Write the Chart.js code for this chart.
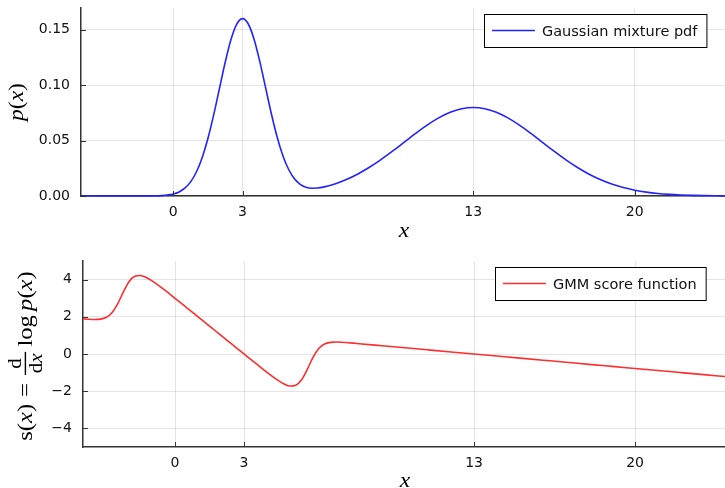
<!DOCTYPE html>
<html>
<head>
<meta charset="utf-8">
<script src="https://cdn.jsdelivr.net/npm/chart.js@4.4.0/dist/chart.umd.min.js"></script>
<style>
  html, body { margin: 0; padding: 0; background: #fff; }
  canvas { display: block; }
</style>
</head>
<body>
<canvas id="pdfChart" width="725" height="244"></canvas>
<canvas id="scoreChart" width="725" height="244"></canvas>
<script>
// values
const xTicks = [0, 3, 13, 20];
const pdfYTicks = [0, 0.05, 0.10, 0.15];
const scoreYTicks = [-4, -2, 0, 2, 4];

const pdfX = [-4, -3, -2, -1.5, -1, -0.5,
  0, 0.25, 0.5, 0.75, 1, 1.25, 1.5, 1.75, 2, 2.25, 2.5, 2.75, 3, 3.25, 3.5, 3.75,
  4, 4.25, 4.5, 4.75, 5, 5.25, 5.5, 5.75, 6, 6.25, 6.5,
  7, 7.5, 8, 8.5, 9, 9.5, 10, 10.5, 11, 11.5, 12, 12.5, 13, 13.5, 14, 14.5, 15, 15.5,
  16, 16.5, 17, 17.5, 18, 18.5, 19, 19.5, 20, 20.5, 21, 21.5, 22, 22.5, 23, 23.5, 24];
const pdfY = [0, 0, 0.000001, 0.000006, 0.000055, 0.00035,
  0.00178, 0.00365, 0.00703, 0.01272, 0.02163, 0.03455, 0.05186, 0.07313, 0.09689, 0.12059,
  0.14101, 0.15490, 0.15989, 0.15508, 0.14136, 0.12115,
  0.09768, 0.07420, 0.05325, 0.03633, 0.02388, 0.01553, 0.01052, 0.00794, 0.00702, 0.00716, 0.00798,
  0.01085, 0.01487, 0.01990, 0.02590, 0.03280, 0.04040, 0.04839, 0.05638, 0.06389, 0.07041,
  0.07548, 0.07869, 0.07979, 0.07869, 0.07548, 0.07041, 0.06389, 0.05638,
  0.04839, 0.04040, 0.03280, 0.02590, 0.01990, 0.01486, 0.01080, 0.00763, 0.00525, 0.00351,
  0.00228, 0.00144, 0.00089, 0.00053, 0.00031, 0.00018, 0.0001];

const scoreX = [-4, -3.75, -3.5, -3.25, -3, -2.75, -2.5, -2.25, -2, -1.75, -1.5, -1.25,
  -1, -0.75, -0.5, -0.25, 0, 0.25, 0.5, 0.75, 1, 1.25, 1.5, 1.75, 2, 2.25, 2.5, 2.75,
  3, 3.25, 3.5, 3.75, 4, 4.25, 4.5, 4.75, 5, 5.25, 5.5, 5.75, 6, 6.25, 6.5, 6.75,
  7, 7.25, 7.5, 7.75, 8, 9, 10, 11, 12, 13, 14, 15, 16, 17, 18, 19, 20, 21, 22, 23, 24];
const scoreY = [1.891, 1.868, 1.856, 1.873, 1.962, 2.203, 2.677, 3.323, 3.889, 4.182, 4.224, 4.117,
  3.934, 3.716, 3.482, 3.240, 2.994, 2.747, 2.498, 2.249, 1.999, 1.750, 1.500, 1.250, 1.000, 0.750, 0.501, 0.251,
  0.002, -0.247, -0.494, -0.740, -0.982, -1.216, -1.434, -1.617, -1.724, -1.682, -1.389, -0.823, -0.177, 0.297, 0.538, 0.627,
  0.644, 0.632, 0.609, 0.583, 0.555, 0.444, 0.333, 0.222, 0.111, 0, -0.111, -0.222, -0.333, -0.444,
  -0.556, -0.667, -0.778, -0.889, -1.0, -1.111, -1.222];

const tickFont = { family: "'DejaVu Sans'", size: 14 };
const mathFont = "'Liberation Serif', serif";
const mathStretch = 1.12;
const axisColor = "#333333";
const gridColor = "rgba(0,0,0,0.1)";

//Measures a run of math pieces (plain, italic, gaps, fractions)
function mathWidth(ctx, segs, size){
    let w = 0;
    segs.forEach(s => {
        if (s.gap) { w += s.gap * size; return; }
        if (s.frac) { w += fracWidth(ctx, s, size); return; }
        ctx.font = (s.it ? "italic " : "") + size + "px " + mathFont;
        w += ctx.measureText(s.t).width;
    });
    return w;
}
function fracWidth(ctx, s, size){
    let fs = size * 0.85;
    return Math.max(mathWidth(ctx, s.frac[0], fs), mathWidth(ctx, s.frac[1], fs)) + 5;
}
//Draws the run starting at x, baseline 0
function drawMath(ctx, segs, x, size){
    segs.forEach(s => {
        if (s.gap) { x += s.gap * size; return; }
        if (s.frac) {
            let fs = size * 0.85,
                w = fracWidth(ctx, s, size),
                nw = mathWidth(ctx, s.frac[0], fs),
                dw = mathWidth(ctx, s.frac[1], fs);
            ctx.fillRect(x + 1, -size * 0.3 - 0.7, w - 2, 1.4);
            ctx.save(); ctx.translate(0, -size * 0.3 - 4);
            drawMath(ctx, s.frac[0], x + (w - nw) / 2, fs);
            ctx.restore();
            ctx.save(); ctx.translate(0, -size * 0.3 + fs * 0.7 + 3.5);
            drawMath(ctx, s.frac[1], x + (w - dw) / 2, fs);
            ctx.restore();
            x += w;
            return;
        }
        ctx.font = (s.it ? "italic " : "") + size + "px " + mathFont;
        ctx.fillText(s.t, x, 0);
        x += ctx.measureText(s.t).width;
    });
}

//Adds inner tick marks, the legend box and the axis labels
function decor(o){
    return {
        id: "decor",
        afterDraw(chart){
            let ctx = chart.ctx, a = chart.chartArea,
                xs = chart.scales.x, ys = chart.scales.y;
            ctx.save();

            ctx.strokeStyle = axisColor;
            ctx.lineWidth = 1;
            ctx.beginPath();
            xTicks.forEach(v => {
                let px = Math.round(xs.getPixelForValue(v)) + 0.5;
                ctx.moveTo(px, a.bottom); ctx.lineTo(px, a.bottom - 5);
            });
            o.yTicks.forEach(v => {
                let py = Math.round(ys.getPixelForValue(v)) + 0.5;
                ctx.moveTo(a.left, py); ctx.lineTo(a.left + 5, py);
            });
            ctx.stroke();

            // legend
            let ds = chart.data.datasets[0];
            ctx.font = "14.5px 'DejaVu Sans'";
            let tw = ctx.measureText(ds.label).width,
                w = 8 + 43 + 7 + tw + 9, h = 33,
                right = a.right - 19, top = Math.round(a.top + 6),
                left = Math.round(right - w);
            ctx.fillStyle = "#fff";
            ctx.fillRect(left, top, w, h);
            ctx.strokeStyle = "#000";
            ctx.lineWidth = 1;
            ctx.strokeRect(left + 0.5, top + 0.5, w, h);
            ctx.strokeStyle = ds.borderColor;
            ctx.lineWidth = 1.6;
            ctx.beginPath();
            ctx.moveTo(left + 8, top + h / 2); ctx.lineTo(left + 51, top + h / 2);
            ctx.stroke();
            ctx.fillStyle = "#111";
            ctx.textBaseline = "alphabetic";
            ctx.fillText(ds.label, left + 58, top + h / 2 + 5.5);

            // x label
            ctx.fillStyle = "#000";
            ctx.textAlign = "center";
            ctx.save();
            ctx.translate((a.left + a.right + 2) / 2, a.bottom + o.xLabelOff);
            ctx.scale(mathStretch, 1);
            ctx.font = "italic 21px " + mathFont;
            ctx.fillText("x", 0, 0);
            ctx.restore();

            // y label, rotated
            ctx.textAlign = "left";
            ctx.save();
            ctx.translate(o.yLabelX, (a.top + a.bottom) / 2 + o.yLabelShift);
            ctx.rotate(-Math.PI / 2);
            ctx.scale(mathStretch, 1);
            let mw = mathWidth(ctx, o.yLabel, o.yLabelSize);
            drawMath(ctx, o.yLabel, -mw / 2, o.yLabelSize);
            ctx.restore();

            ctx.restore();
        }
    };
}

function makeChart(id, o){
    return new Chart(id, {
        type: "scatter",
        data: {
            datasets: [{
                label: o.label,
                data: o.xs.map((x, i) => ({ x: x, y: o.ys[i] })),
                showLine: true,
                borderColor: o.color,
                borderWidth: 1.6,
                pointRadius: 0,
                cubicInterpolationMode: "monotone",
                clip: false,
            }],
        },
        options: {
            responsive: false,
            animation: false,
            events: [],
            layout: { padding: { top: o.top, left: 0, right: 0, bottom: 0 } },
            plugins: {
                legend: { display: false },
                tooltip: { enabled: false },
            },
            scales: {
                x: {
                    type: "linear",
                    min: -4,
                    max: 23.91,
                    afterBuildTicks: s => { s.ticks = xTicks.map(v => ({ value: v })); },
                    afterFit: s => { s.height = o.xAxisH; s.paddingLeft = 0; s.paddingRight = 0; },
                    grid: { color: gridColor, drawTicks: false },
                    border: { color: axisColor, width: 1.5 },
                    ticks: { font: tickFont, color: "#111", padding: 8, maxRotation: 0, autoSkip: false },
                },
                y: {
                    type: "linear",
                    min: o.yMin,
                    max: o.yMax,
                    afterBuildTicks: s => { s.ticks = o.yTicks.map(v => ({ value: v })); },
                    afterFit: s => { s.width = o.yAxisW; s.paddingTop = 0; s.paddingBottom = 0; },
                    grid: { color: gridColor, drawTicks: false },
                    border: { color: axisColor, width: 1.5 },
                    ticks: { font: tickFont, color: "#111", padding: 11, callback: o.fmt },
                },
            },
        },
        plugins: [decor(o)],
    });
}

makeChart("pdfChart", {
    label: "Gaussian mixture pdf",
    xs: pdfX, ys: pdfY,
    color: "rgb(35,35,255)",
    top: 8, xAxisH: 48, yAxisW: 81,
    yMin: 0, yMax: 0.1695, yTicks: pdfYTicks,
    fmt: v => v.toFixed(2),
    xLabelOff: 41, yLabelX: 23, yLabelShift: 0, yLabelSize: 21,
    yLabel: [{ t: "p", it: 1 }, { t: "(" }, { t: "x", it: 1 }, { t: ")" }],
});

makeChart("scoreChart", {
    label: "GMM score function",
    xs: scoreX, ys: scoreY,
    color: "rgb(255,45,45)",
    top: 17, xAxisH: 41, yAxisW: 83,
    yMin: -5, yMax: 5, yTicks: scoreYTicks,
    fmt: v => (v < 0 ? "\u2212" + Math.abs(v) : String(v)),
    xLabelOff: 40, yLabelX: 32, yLabelShift: 2, yLabelSize: 22,
    yLabel: [{ t: "s" }, { t: "(" }, { t: "x", it: 1 }, { t: ")" }, { gap: 0.28 }, { t: "=" }, { gap: 0.28 },
        { frac: [[{ t: "d" }], [{ t: "d" }, { t: "x", it: 1 }]] }, { gap: 0.17 },
        { t: "log" }, { gap: 0.17 }, { t: "p", it: 1 }, { t: "(" }, { t: "x", it: 1 }, { t: ")" }],
});
</script>
</body>
</html>
